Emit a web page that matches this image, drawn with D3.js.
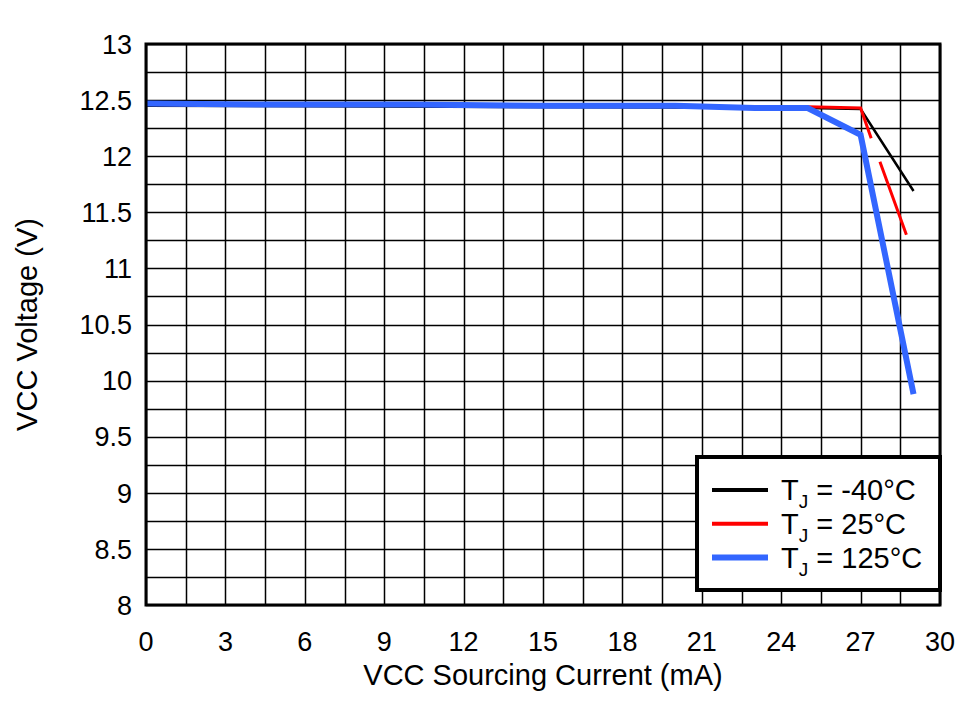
<!DOCTYPE html>
<html>
<head>
<meta charset="utf-8">
<script src="https://cdn.jsdelivr.net/npm/d3@7"></script>
<style>
  body { margin: 0; background: #fff; }
  text { font-family: "Liberation Sans", Arial, sans-serif; fill: #000; }
</style>
</head>
<body>
<div id="wrapper"></div>
<script>
// VCC sourcing current (mA) vs VCC voltage (V)
const seriesNames = ["T_J = -40°C", "T_J = 25°C", "T_J = 125°C"];
const seriesColors = ["#000000", "#ff0000", "#3366ff"];
const seriesWidths = [2.5, 3, 6];

const minus40 = [[0, 12.45], [25, 12.43], [27, 12.42], [29, 11.69]];
const plus25 = [[0, 12.46], [25, 12.44], [27, 12.43], [27.4, 12.16], [null, null], [27.73, 11.95], [28.73, 11.30]];
const plus125 = [[0, 12.47], [5, 12.46], [10, 12.46], [15, 12.45], [20, 12.45], [23, 12.43], [25, 12.43], [27, 12.19], [29, 9.88]];

const xTicks = [0, 3, 6, 9, 12, 15, 18, 21, 24, 27, 30];
const yTicks = [8, 8.5, 9, 9.5, 10, 10.5, 11, 11.5, 12, 12.5, 13];

let dimensions = {
    width: 980,
    height: 701,
    margin: { top: 44, right: 40, bottom: 96, left: 146 }
};
dimensions.boundedWidth = dimensions.width - dimensions.margin.left - dimensions.margin.right;
dimensions.boundedHeight = dimensions.height - dimensions.margin.top - dimensions.margin.bottom;

const wrapper = d3.select("#wrapper")
    .append("svg")
    .attr("width", dimensions.width)
    .attr("height", dimensions.height);

const bounds = wrapper.append("g")
    .attr("transform", `translate(${dimensions.margin.left},${dimensions.margin.top})`);

const xScale = d3.scaleLinear().domain([0, 30]).range([0, dimensions.boundedWidth]);
const yScale = d3.scaleLinear().domain([8, 13]).range([dimensions.boundedHeight, 0]);

// grid: minor lines every half tick
const xGrid = d3.range(0, 30.01, 1.5);
const yGrid = d3.range(8, 13.01, 0.25);

bounds.append("g").selectAll("line")
    .data(xGrid)
    .join("line")
    .attr("x1", d => Math.round(xScale(d)) + 0.5)
    .attr("x2", d => Math.round(xScale(d)) + 0.5)
    .attr("y1", 0)
    .attr("y2", dimensions.boundedHeight)
    .attr("stroke", "#000")
    .attr("stroke-width", 1.5);

bounds.append("g").selectAll("line")
    .data(yGrid)
    .join("line")
    .attr("x1", 0)
    .attr("x2", dimensions.boundedWidth)
    .attr("y1", d => Math.round(yScale(d)) + 0.5)
    .attr("y2", d => Math.round(yScale(d)) + 0.5)
    .attr("stroke", "#000")
    .attr("stroke-width", 1.5);

// series
const line = d3.line()
    .defined(d => d[0] !== null)
    .x(d => xScale(d[0]))
    .y(d => yScale(d[1]));

const allSeries = [minus40, plus25, plus125];
bounds.append("g").selectAll("path")
    .data(allSeries)
    .join("path")
    .attr("d", d => line(d))
    .attr("fill", "none")
    .attr("stroke", (d, i) => seriesColors[i])
    .attr("stroke-width", (d, i) => seriesWidths[i])
    .attr("stroke-linejoin", "miter");

// frame
bounds.append("rect")
    .attr("width", dimensions.boundedWidth)
    .attr("height", dimensions.boundedHeight)
    .attr("fill", "none")
    .attr("stroke", "#000")
    .attr("stroke-width", 3);

// tick labels
bounds.append("g").selectAll("text")
    .data(xTicks)
    .join("text")
    .attr("x", d => xScale(d))
    .attr("y", dimensions.boundedHeight + 46)
    .attr("text-anchor", "middle")
    .style("font-size", "27px")
    .text(d => d);

bounds.append("g").selectAll("text")
    .data(yTicks)
    .join("text")
    .attr("x", -14)
    .attr("y", d => yScale(d))
    .attr("dy", "0.36em")
    .attr("text-anchor", "end")
    .style("font-size", "27px")
    .text(d => d);

// axis titles
wrapper.append("text")
    .attr("x", dimensions.margin.left + dimensions.boundedWidth / 2)
    .attr("y", 685)
    .attr("text-anchor", "middle")
    .style("font-size", "29px")
    .text("VCC Sourcing Current (mA)");

wrapper.append("text")
    .attr("transform", `translate(37,${dimensions.margin.top + dimensions.boundedHeight / 2}) rotate(-90)`)
    .attr("text-anchor", "middle")
    .style("font-size", "29px")
    .text("VCC Voltage (V)");

// legend
const legend = wrapper.append("g");
legend.append("rect")
    .attr("x", 697)
    .attr("y", 457)
    .attr("width", 243)
    .attr("height", 133)
    .attr("fill", "#fff")
    .attr("stroke", "#000")
    .attr("stroke-width", 4);

const legendItems = legend.selectAll("g.item")
    .data(seriesNames)
    .join("g")
    .attr("class", "item")
    .attr("transform", (d, i) => `translate(0,${490 + i * 33.8})`);

legendItems.append("line")
    .attr("x1", 712)
    .attr("x2", 768)
    .attr("stroke", (d, i) => seriesColors[i])
    .attr("stroke-width", (d, i) => [4, 4, 6][i]);

const legendText = legendItems.append("text")
    .attr("x", 781)
    .attr("y", 10)
    .style("font-size", "29px");
legendText.append("tspan").text("T");
legendText.append("tspan")
    .attr("dy", 8)
    .style("font-size", "19px")
    .text("J");
legendText.append("tspan")
    .attr("dy", -8)
    .text(d => d.replace("T_J", ""));
</script>
</body>
</html>
